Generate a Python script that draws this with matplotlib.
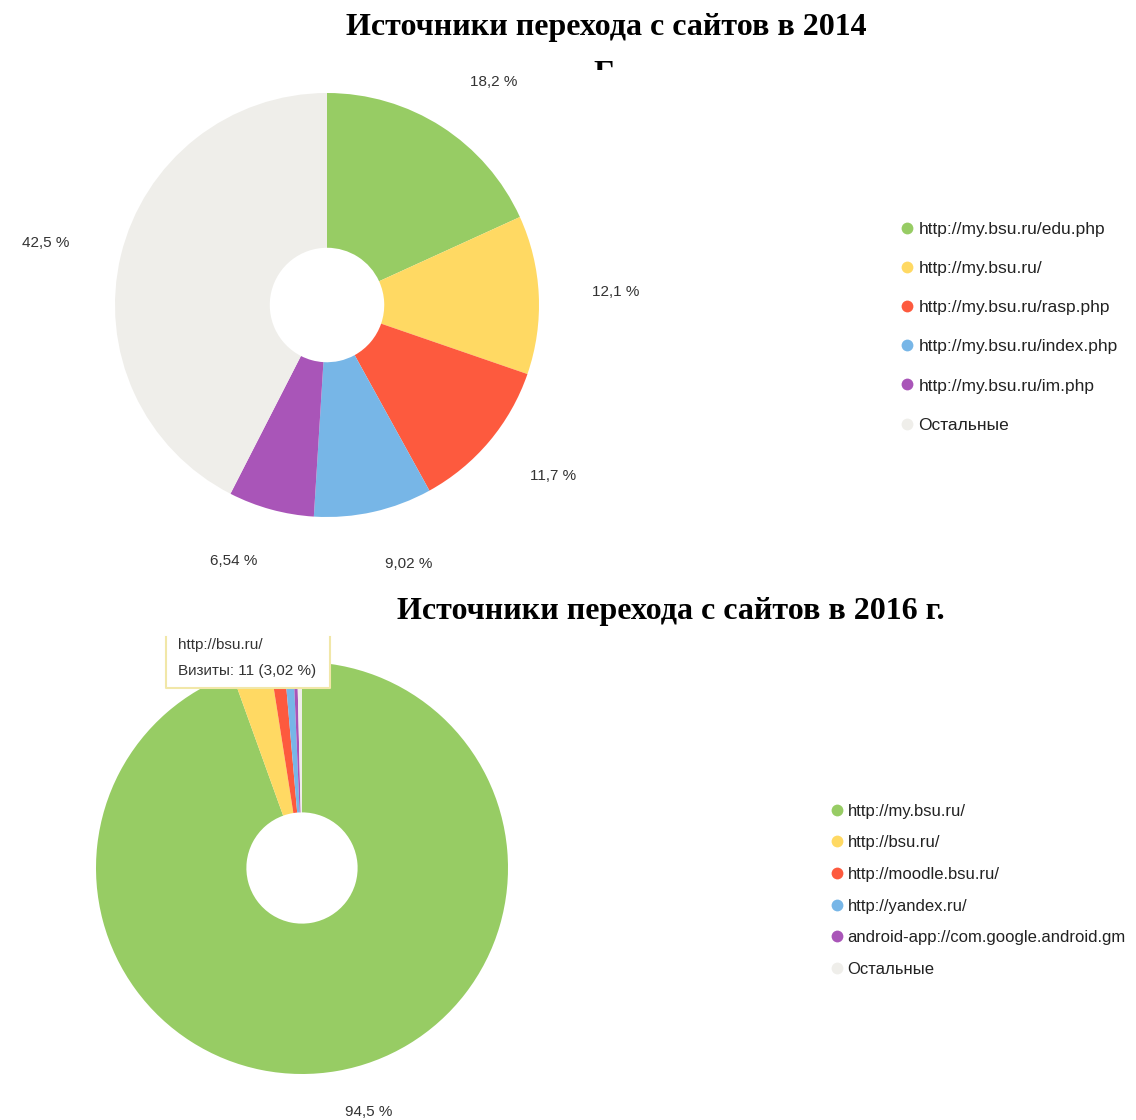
import matplotlib.pyplot as plt
from matplotlib.lines import Line2D
from matplotlib.patches import Rectangle

# Data
TITLE_2014 = 'Источники перехода с сайтов в 2014'
TITLE_2016 = 'Источники перехода с сайтов в 2016 г.'

sources_2014 = ['http://my.bsu.ru/edu.php', 'http://my.bsu.ru/', 'http://my.bsu.ru/rasp.php',
                'http://my.bsu.ru/index.php', 'http://my.bsu.ru/im.php', 'Остальные']
shares_2014 = [18.2, 12.1, 11.7, 9.02, 6.54, 42.5]

sources_2016 = ['http://my.bsu.ru/', 'http://bsu.ru/', 'http://moodle.bsu.ru/',
                'http://yandex.ru/', 'android-app://com.google.android.gm', 'Остальные']
shares_2016 = [94.5, 3.02, 1.1, 0.7, 0.3, 0.38]
labelled_2016 = [True, False, False, False, False, False]

tooltip_source = 'http://bsu.ru/'
tooltip_visits = 11
tooltip_share = 3.02

colors = ['#97cc64', '#ffd963', '#fd5a3e', '#77b6e7', '#a955b8', '#efeeea']

W, H = 1136, 1120
SANS = ['Liberation Sans', 'DejaVu Sans']
SERIF = ['Liberation Serif', 'DejaVu Serif']


def fmt(v):
    return f"{v:.3g}".replace('.', ',') + ' %'


def pie_axes(fig, cx, cy, side):
    # square axes centered on (cx, cy) px
    ax = fig.add_axes([(cx - side / 2) / W, 1 - (cy + side / 2) / H, side / W, side / H])
    ax.axis('off')
    return ax


def fix_scale(ax, r, side):
    # pie radius 1 in data units -> r px (pie() resets limits, so call after it)
    lim = side / 2 / r
    ax.set_xlim(-lim, lim)
    ax.set_ylim(-lim, lim)
    ax.set_aspect('equal')


def legend(fig, names, x, y, spacing, size):
    handles = [Line2D([], [], marker='o', linestyle='none', markersize=8.5,
                      markerfacecolor=c, markeredgecolor='none') for c in colors]
    fig.legend(handles, names, loc='upper left', bbox_to_anchor=(x / W, 1 - y / H),
               frameon=False, handlelength=0.6, handletextpad=0.35,
               labelspacing=spacing, borderaxespad=0,
               prop={'family': SANS, 'size': size}, labelcolor='#222222')


fig = plt.figure(figsize=(W / 100, H / 100), dpi=100)

# 2014
fig.text(606 / W, 1 - 27 / H, TITLE_2014, ha='center', va='center',
         family=SERIF, weight='bold', fontsize=23)
# cropped remnant of the next title line
frag = fig.text(604 / W, 1 - 75 / H, 'Г', ha='center', va='center',
                family=SERIF, weight='bold', fontsize=23)
frag.set_clip_path(Rectangle((0, 1 - 70 / H), 1, 70 / H, transform=fig.transFigure))

ax1 = pie_axes(fig, 327, 305, 600)
ax1.pie(shares_2014, colors=colors, startangle=90, counterclock=False,
        labels=[fmt(v) for v in shares_2014], labeldistance=1.25,
        wedgeprops={'width': 0.73, 'linewidth': 0},
        textprops={'family': SANS, 'size': 11, 'color': '#333333'})
fix_scale(ax1, 212, 600)
legend(fig, sources_2014, 895, 215, 1.38, 12.5)

# 2016
fig.text(671 / W, 1 - 611 / H, TITLE_2016, ha='center', va='center',
         family=SERIF, weight='bold', fontsize=23)

ax2 = pie_axes(fig, 302, 868, 560)
ax2.pie(shares_2016, colors=colors, startangle=90, counterclock=False,
        labels=[fmt(v) if show else '' for v, show in zip(shares_2016, labelled_2016)],
        labeldistance=1.2,
        wedgeprops={'width': 0.73, 'linewidth': 0},
        textprops={'family': SANS, 'size': 11, 'color': '#333333'})
fix_scale(ax2, 206, 560)
legend(fig, sources_2016, 825, 797, 1.0, 12)

# tooltip (top part cropped in the source image)
x0, x1, y0, y1 = 166 / W, 330 / W, 1 - 688 / H, 1 - 637 / H
fig.add_artist(Rectangle((x0, y0), x1 - x0, y1 - y0, transform=fig.transFigure,
                         facecolor='white', edgecolor='none', zorder=5))
fig.add_artist(Line2D([x0, x0, x1, x1], [y1, y0, y0, y1], transform=fig.transFigure,
                      color='#f1e7a8', linewidth=1.5, zorder=6))
tip1 = fig.text(178 / W, 1 - 645 / H, tooltip_source, ha='left', va='center',
                family=SANS, fontsize=11, color='#333333', zorder=7)
tip1.set_clip_path(Rectangle((0, 0), 1, y1, transform=fig.transFigure))
fig.text(178 / W, 1 - 671 / H, f'Визиты: {tooltip_visits} ({fmt(tooltip_share)})',
         ha='left', va='center', family=SANS, fontsize=11, color='#333333', zorder=7)

fig.savefig('out.png', dpi=100, facecolor='white')
